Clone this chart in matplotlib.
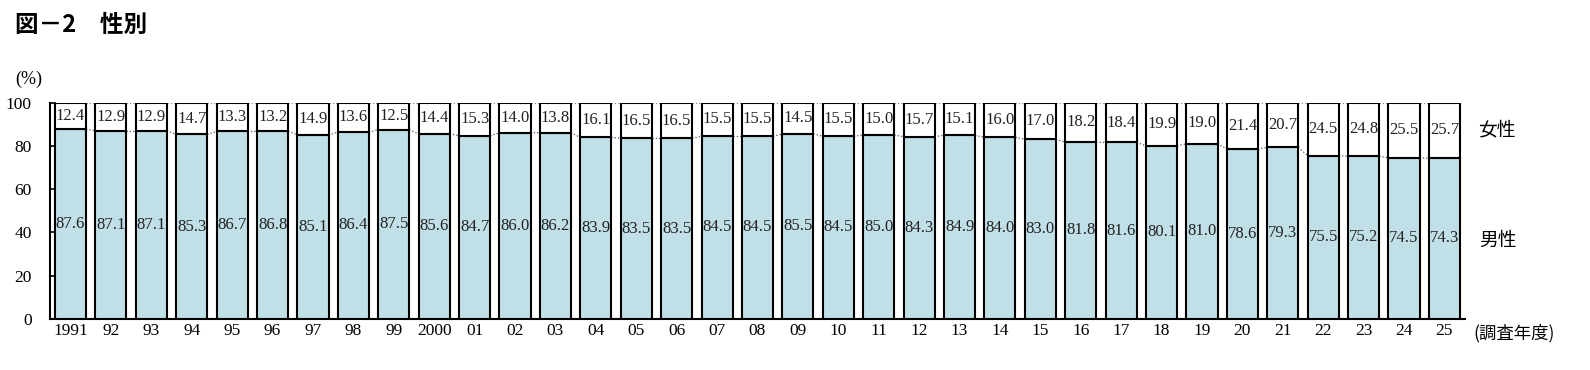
import matplotlib
matplotlib.use('Agg')
import matplotlib.pyplot as plt
import numpy as np

years = ['1991', '92', '93', '94', '95', '96', '97', '98', '99', '2000',
         '01', '02', '03', '04', '05', '06', '07', '08', '09', '10',
         '11', '12', '13', '14', '15', '16', '17', '18', '19', '20',
         '21', '22', '23', '24', '25']
male = [87.6, 87.1, 87.1, 85.3, 86.7, 86.8, 85.1, 86.4, 87.5, 85.6,
        84.7, 86.0, 86.2, 83.9, 83.5, 83.5, 84.5, 84.5, 85.5, 84.5,
        85.0, 84.3, 84.9, 84.0, 83.0, 81.8, 81.6, 80.1, 81.0, 78.6,
        79.3, 75.5, 75.2, 74.5, 74.3]
female = [12.4, 12.9, 12.9, 14.7, 13.3, 13.2, 14.9, 13.6, 12.5, 14.4,
          15.3, 14.0, 13.8, 16.1, 16.5, 16.5, 15.5, 15.5, 14.5, 15.5,
          15.0, 15.7, 15.1, 16.0, 17.0, 18.2, 18.4, 19.9, 19.0, 21.4,
          20.7, 24.5, 24.8, 25.5, 25.7]

serif = ['Liberation Serif', 'DejaVu Serif']
jp = ['Noto Sans CJK JP', 'DejaVu Sans']

fig = plt.figure(figsize=(15.9, 3.7), dpi=100)
ax = fig.add_axes([0.0314, 0.1386, 0.89, 0.5838])

x = np.arange(len(years))
w = 0.77
male = np.array(male)
female = np.array(female)

ax.bar(x, male, w, color='#c1dfe7', edgecolor='black', linewidth=1.5, zorder=3)
ax.bar(x, female, w, bottom=male, color='white', edgecolor='black', linewidth=1.5, zorder=3)

# dotted connectors between bars
for i in range(len(x) - 1):
    ax.plot([x[i] + w / 2, x[i + 1] - w / 2], [male[i], male[i + 1]],
            ls=':', color='#555555', lw=0.9, zorder=2)
    ax.plot([x[i] + w / 2, x[i + 1] - w / 2], [100, 100],
            ls=':', color='#888888', lw=0.9, zorder=2)

for i in range(len(x)):
    ax.text(x[i], male[i] / 2, f'{male[i]:.1f}', ha='center', va='center',
            fontsize=12, family=serif, color='#222222', zorder=4)
    ax.text(x[i], male[i] + female[i] / 2, f'{female[i]:.1f}', ha='center', va='center',
            fontsize=12, family=serif, color='#222222', zorder=4)

ax.set_xlim(-0.51, len(x) - 0.49)
ax.set_ylim(0, 100)
ax.set_yticks([0, 20, 40, 60, 80, 100])
ax.set_xticks(x)
ax.set_xticklabels(years)
for lab in ax.get_xticklabels() + ax.get_yticklabels():
    lab.set_family(serif)
    lab.set_fontsize(12.5)
ax.tick_params(axis='y', direction='in', length=4, width=1.2, pad=13)
ax.tick_params(axis='x', length=0, pad=3)
ax.spines['top'].set_visible(False)
ax.spines['right'].set_visible(False)
ax.spines['left'].set_linewidth(1.5)
ax.spines['bottom'].set_linewidth(1.5)

fig.text(15 / 1590, 1 - 25 / 370, '図－2　性別', fontsize=17, fontweight='bold',
         family=jp, ha='left', va='center')
fig.text(15 / 1590, 1 - 79 / 370, '(%)', fontsize=13, family=serif, ha='left', va='center')
fig.text(1497 / 1590, 1 - 130 / 370, '女性', fontsize=13.5, family=jp, ha='center', va='center')
fig.text(1498 / 1590, 1 - 240 / 370, '男性', fontsize=13.5, family=jp, ha='center', va='center')
fig.text(1473 / 1590, 1 - 333 / 370, '(調査年度)', fontsize=12.5, family=jp, ha='left', va='center')

fig.savefig('out.png', dpi=100, facecolor='white')
